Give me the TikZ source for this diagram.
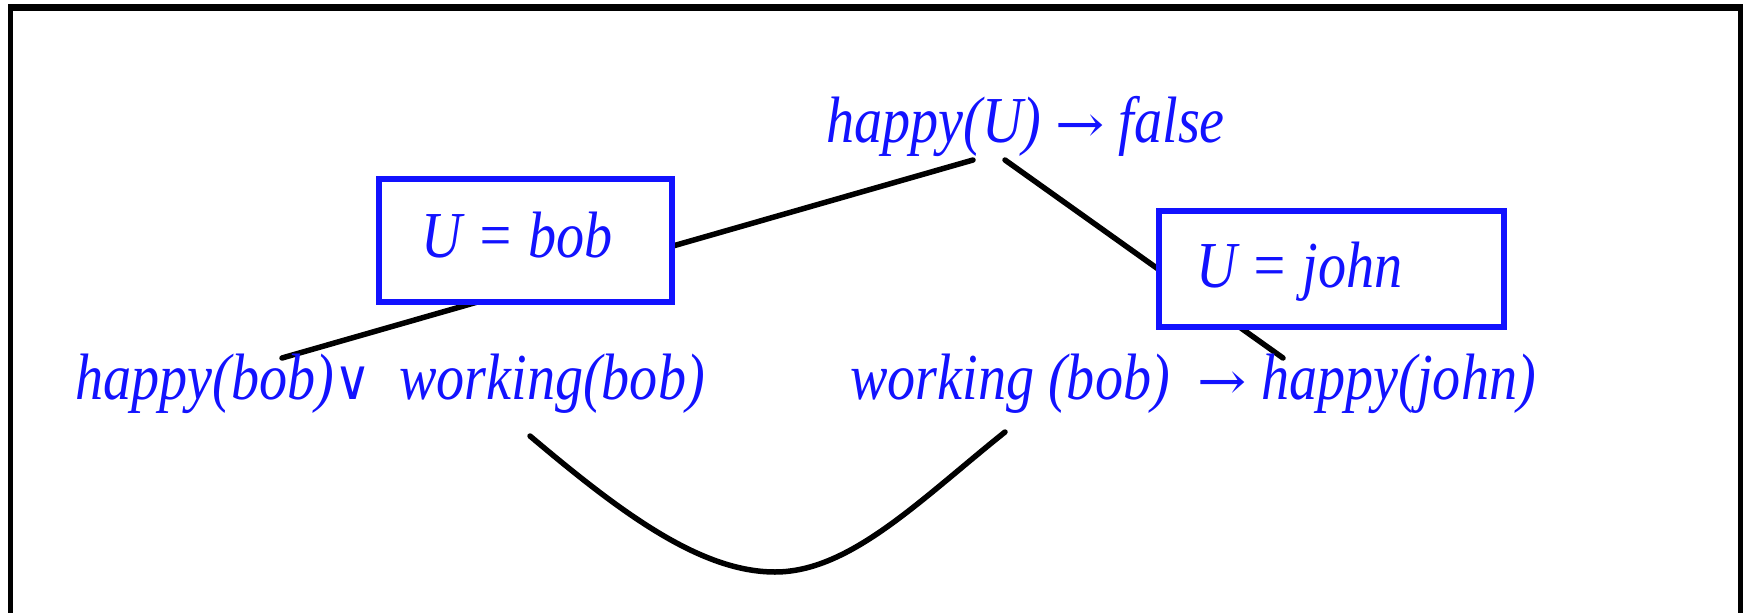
\documentclass[tikz,border=0pt]{standalone}
\usepackage{fontspec}
\setmainfont{Liberation Serif}
\newfontfamily\symfont{DejaVu Serif}
\definecolor{txtblue}{RGB}{18,18,255}
\tikzset{
  frameline/.style={draw=black, line width=5.5pt},
  link/.style={draw=black, line width=5.5pt, line cap=round},
  subbox/.style={draw=txtblue, fill=white, line width=6pt, rectangle, inner sep=0pt},
  formula/.style={text=txtblue, inner sep=0pt, anchor=base,
    font=\fontsize{65.6}{78}\selectfont\itshape},
}
\newcommand{\squeeze}[1]{\scalebox{0.856}[1]{#1}}
\newcommand{\arr}{{\symfont\upshape\scalebox{1.05}[0.8]{→}}}
\newcommand{\orsym}{{\symfont\upshape\scalebox{0.9}[0.85]{∨}}}
\begin{document}
\begin{tikzpicture}[x=1pt, y=-1pt]
\useasboundingbox (0,0) rectangle (1746,613);
% frame
\draw[frameline] (10.5,620) -- (10.5,7.3);
\draw[frameline] (1740.5,620) -- (1740.5,7.3);
\draw[frameline, line width=6.5pt] (8,7.3) -- (1743,7.3);
% connector end points
\coordinate (topL) at (973,160);
\coordinate (topR) at (1005,160);
\coordinate (botL) at (282,358);
\coordinate (botR) at (1283,358);
\coordinate (cvL) at (530,436);
\coordinate (cvB) at (775,572);
\coordinate (cvR) at (1005,432);
% connectors
\draw[link] (topL) -- (botL);
\draw[link] (topR) -- (botR);
\draw[link] (cvL) .. controls (620,512) and (700,572) .. (cvB)
                  .. controls (850,572) and (920,500) .. (cvR);
% substitution boxes
\node[subbox, minimum width=293pt, minimum height=123pt] (bobbox) at (525.5,240.5) {};
\node[subbox, minimum width=345pt, minimum height=116pt] (johnbox) at (1331.5,269) {};
% texts
\node[formula] (goal) at (1025.5,142) {\squeeze{happy(U) \arr\ false}};
\node[formula] (bobtxt) at (517,257) {\squeeze{U = bob}};
\node[formula] (johntxt) at (1299.5,287) {\squeeze{U = john}};
\node[formula] (left) at (390,399) {\squeeze{happy(bob)\orsym~ working(bob)}};
\node[formula] (right) at (1193,399) {\squeeze{working (bob)~ \arr\ happy(john)}};
\end{tikzpicture}
\end{document}
